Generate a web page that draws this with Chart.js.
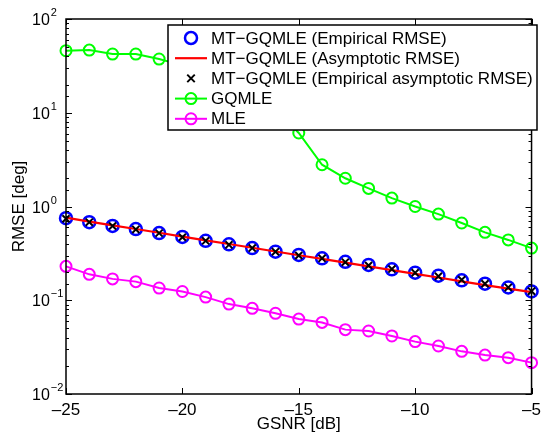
<!DOCTYPE html>
<html>
<head>
<meta charset="utf-8">
<script src="https://cdn.jsdelivr.net/npm/chart.js@4"></script>
<style>
  body { margin: 0; background: #fff; }
  #wrap { width: 547px; height: 435px; }
</style>
</head>
<body>
<div id="wrap"><canvas id="rmse-chart" width="547" height="435"></canvas></div>
<script>
// GSNR [dB]
var gsnr = [-25, -24, -23, -22, -21, -20, -19, -18, -17, -16, -15, -14, -13, -12, -11, -10, -9, -8, -7, -6, -5];
// MT-GQMLE, empirical RMSE (blue circles)
var mtEmpirical = [0.75, 0.68, 0.62, 0.575, 0.52, 0.473, 0.43, 0.395, 0.36, 0.33, 0.304, 0.28, 0.257, 0.238, 0.214, 0.197, 0.183, 0.163, 0.150, 0.137, 0.124];
// MT-GQMLE, asymptotic RMSE (red line)
var mtAsymptotic = [0.76, 0.69, 0.63, 0.575, 0.525, 0.478, 0.436, 0.398, 0.363, 0.331, 0.302, 0.276, 0.252, 0.230, 0.210, 0.191, 0.175, 0.159, 0.145, 0.133, 0.122];
// MT-GQMLE, empirical asymptotic RMSE (black x)
var mtEmpAsym = [0.74, 0.68, 0.62, 0.57, 0.52, 0.47, 0.43, 0.39, 0.36, 0.33, 0.30, 0.28, 0.255, 0.235, 0.215, 0.196, 0.18, 0.165, 0.15, 0.137, 0.125];
// GQMLE
var gqmle = [45.9, 46.6, 42.3, 42.3, 37.4, 32, 27, 22, 16, 11, 6.08, 2.79, 2.0, 1.56, 1.23, 1.0, 0.83, 0.667, 0.53, 0.44, 0.36];
// MLE
var mle = [0.23, 0.189, 0.169, 0.158, 0.135, 0.124, 0.108, 0.091, 0.082, 0.0726, 0.063, 0.058, 0.0486, 0.047, 0.0416, 0.0362, 0.0325, 0.0285, 0.026, 0.0244, 0.0216];

var yTickExps = [-2, -1, 0, 1, 2];
var FONT = '"Liberation Sans", Arial, Helvetica, sans-serif';

function pts(ys) {
  return gsnr.map(function (x, i) { return { x: x, y: ys[i] }; });
}

// ticks hacia dentro, caja, etiquetas 10^n y leyenda dentro del grafico
var matlabAxes = {
  id: 'matlabAxes',
  afterDatasetsDraw: function (chart) {
    var ctx = chart.ctx, a = chart.chartArea;
    var xs = chart.scales.x, ys = chart.scales.y;
    ctx.save();
    ctx.strokeStyle = '#000';
    ctx.lineWidth = 1;
    // ticks eje y (log)
    ys.ticks.forEach(function (t) {
      var v = t.value;
      var e = Math.log10(v);
      var major = Math.abs(e - Math.round(e)) < 1e-6;
      var len = major ? 6 : 3;
      var py = Math.round(ys.getPixelForValue(v)) + 0.5;
      ctx.beginPath();
      ctx.moveTo(a.left, py); ctx.lineTo(a.left + len, py);
      ctx.moveTo(a.right, py); ctx.lineTo(a.right - len, py);
      ctx.stroke();
    });
    // ticks eje x
    xs.ticks.forEach(function (t) {
      var px = Math.round(xs.getPixelForValue(t.value)) + 0.5;
      ctx.beginPath();
      ctx.moveTo(px, a.bottom); ctx.lineTo(px, a.bottom - 6);
      ctx.moveTo(px, a.top); ctx.lineTo(px, a.top + 6);
      ctx.stroke();
    });
    // caja
    ctx.lineWidth = 1.5;
    ctx.strokeRect(a.left, a.top, a.right - a.left, a.bottom - a.top);

    // etiquetas 10^n
    ctx.fillStyle = '#000';
    ctx.textBaseline = 'alphabetic';
    ctx.textAlign = 'left';
    yTickExps.forEach(function (e) {
      var py = ys.getPixelForValue(Math.pow(10, e));
      ctx.font = '16px ' + FONT;
      ctx.fillText('10', 32, py + 6);
      var w = ctx.measureText('10').width;
      ctx.font = '11px ' + FONT;
      ctx.fillText(String(e).replace('-', '\u2212'), 32 + w + 1, py - 3);
    });

    // leyenda
    var lx = 168, ly = 25, lw = 369, lh = 105;
    ctx.fillStyle = '#fff';
    ctx.fillRect(lx, ly, lw, lh);
    ctx.lineWidth = 1.5;
    ctx.strokeStyle = '#000';
    ctx.strokeRect(lx, ly, lw, lh);
    ctx.font = '17px ' + FONT;
    ctx.textBaseline = 'middle';
    chart.data.datasets.forEach(function (ds, i) {
      var cy = ly + 13 + i * 20.2;
      ctx.strokeStyle = ds.borderColor;
      if (ds.showLine !== false) {
        ctx.lineWidth = ds.borderWidth;
        ctx.beginPath();
        ctx.moveTo(175, cy); ctx.lineTo(207, cy);
        ctx.stroke();
      }
      if (ds.pointRadius > 0) {
        ctx.lineWidth = ds.pointBorderWidth;
        ctx.beginPath();
        if (ds.pointStyle === 'crossRot') {
          var r = ds.pointRadius * 0.75;
          ctx.moveTo(191 - r, cy - r); ctx.lineTo(191 + r, cy + r);
          ctx.moveTo(191 - r, cy + r); ctx.lineTo(191 + r, cy - r);
        } else {
          ctx.arc(191, cy, ds.pointRadius, 0, Math.PI * 2);
        }
        ctx.stroke();
      }
      ctx.fillStyle = '#000';
      ctx.fillText(ds.label, 211, cy + 1);
    });
    ctx.restore();
  }
};

var ctx = document.getElementById('rmse-chart').getContext('2d');
var chart = new Chart(ctx, {
  type: 'line',
  data: {
    datasets: [{
      label: 'MT\u2212GQMLE (Empirical RMSE)',
      data: pts(mtEmpirical),
      showLine: false,
      borderColor: '#0000ff',
      backgroundColor: 'rgba(0,0,0,0)',
      pointStyle: 'circle',
      pointRadius: 6,
      pointBorderWidth: 2.5,
      pointBackgroundColor: 'rgba(0,0,0,0)',
      order: 3
    }, {
      label: 'MT\u2212GQMLE (Asymptotic RMSE)',
      data: pts(mtAsymptotic),
      borderColor: '#ff0000',
      borderWidth: 2.2,
      pointRadius: 0,
      pointBorderWidth: 0,
      order: 2
    }, {
      label: 'MT\u2212GQMLE (Empirical asymptotic RMSE)',
      data: pts(mtEmpAsym),
      showLine: false,
      borderColor: '#000000',
      pointStyle: 'crossRot',
      pointRadius: 5,
      pointBorderWidth: 2,
      order: 1
    }, {
      label: 'GQMLE',
      data: pts(gqmle),
      borderColor: '#00ff00',
      borderWidth: 2,
      pointStyle: 'circle',
      pointRadius: 5.5,
      pointBorderWidth: 2,
      pointBackgroundColor: 'rgba(0,0,0,0)',
      order: 4
    }, {
      label: 'MLE',
      data: pts(mle),
      borderColor: '#ff00ff',
      borderWidth: 2,
      pointStyle: 'circle',
      pointRadius: 5.5,
      pointBorderWidth: 2,
      pointBackgroundColor: 'rgba(0,0,0,0)',
      order: 5
    }]
  },
  options: {
    responsive: false,
    animation: false,
    clip: false,
    layout: { padding: { top: 19, right: 5, left: 0, bottom: 0 } },
    elements: { line: { tension: 0, fill: false } },
    plugins: { legend: { display: false }, tooltip: { enabled: false } },
    scales: {
      x: {
        type: 'linear',
        min: -25,
        max: -5,
        grid: { display: false, drawTicks: false },
        border: { display: false },
        ticks: {
          stepSize: 5,
          color: '#000',
          font: { family: FONT, size: 17 },
          padding: 6,
          maxRotation: 0,
          callback: function (v) { return String(v).replace('-', '\u2013'); }
        },
        title: {
          display: true,
          text: 'GSNR [dB]',
          color: '#000',
          font: { family: FONT, size: 17 },
          padding: { top: 0, bottom: 0 }
        },
        afterFit: function (s) { s.height = 41; }
      },
      y: {
        type: 'logarithmic',
        min: 0.01,
        max: 100,
        grid: { display: false },
        border: { display: false },
        ticks: { display: false },
        title: {
          display: true,
          text: 'RMSE [deg]',
          color: '#000',
          font: { family: FONT, size: 17 },
          padding: { top: 9, bottom: 0 }
        },
        afterFit: function (s) { s.width = 66; }
      }
    }
  },
  plugins: [matlabAxes]
});
</script>
</body>
</html>
